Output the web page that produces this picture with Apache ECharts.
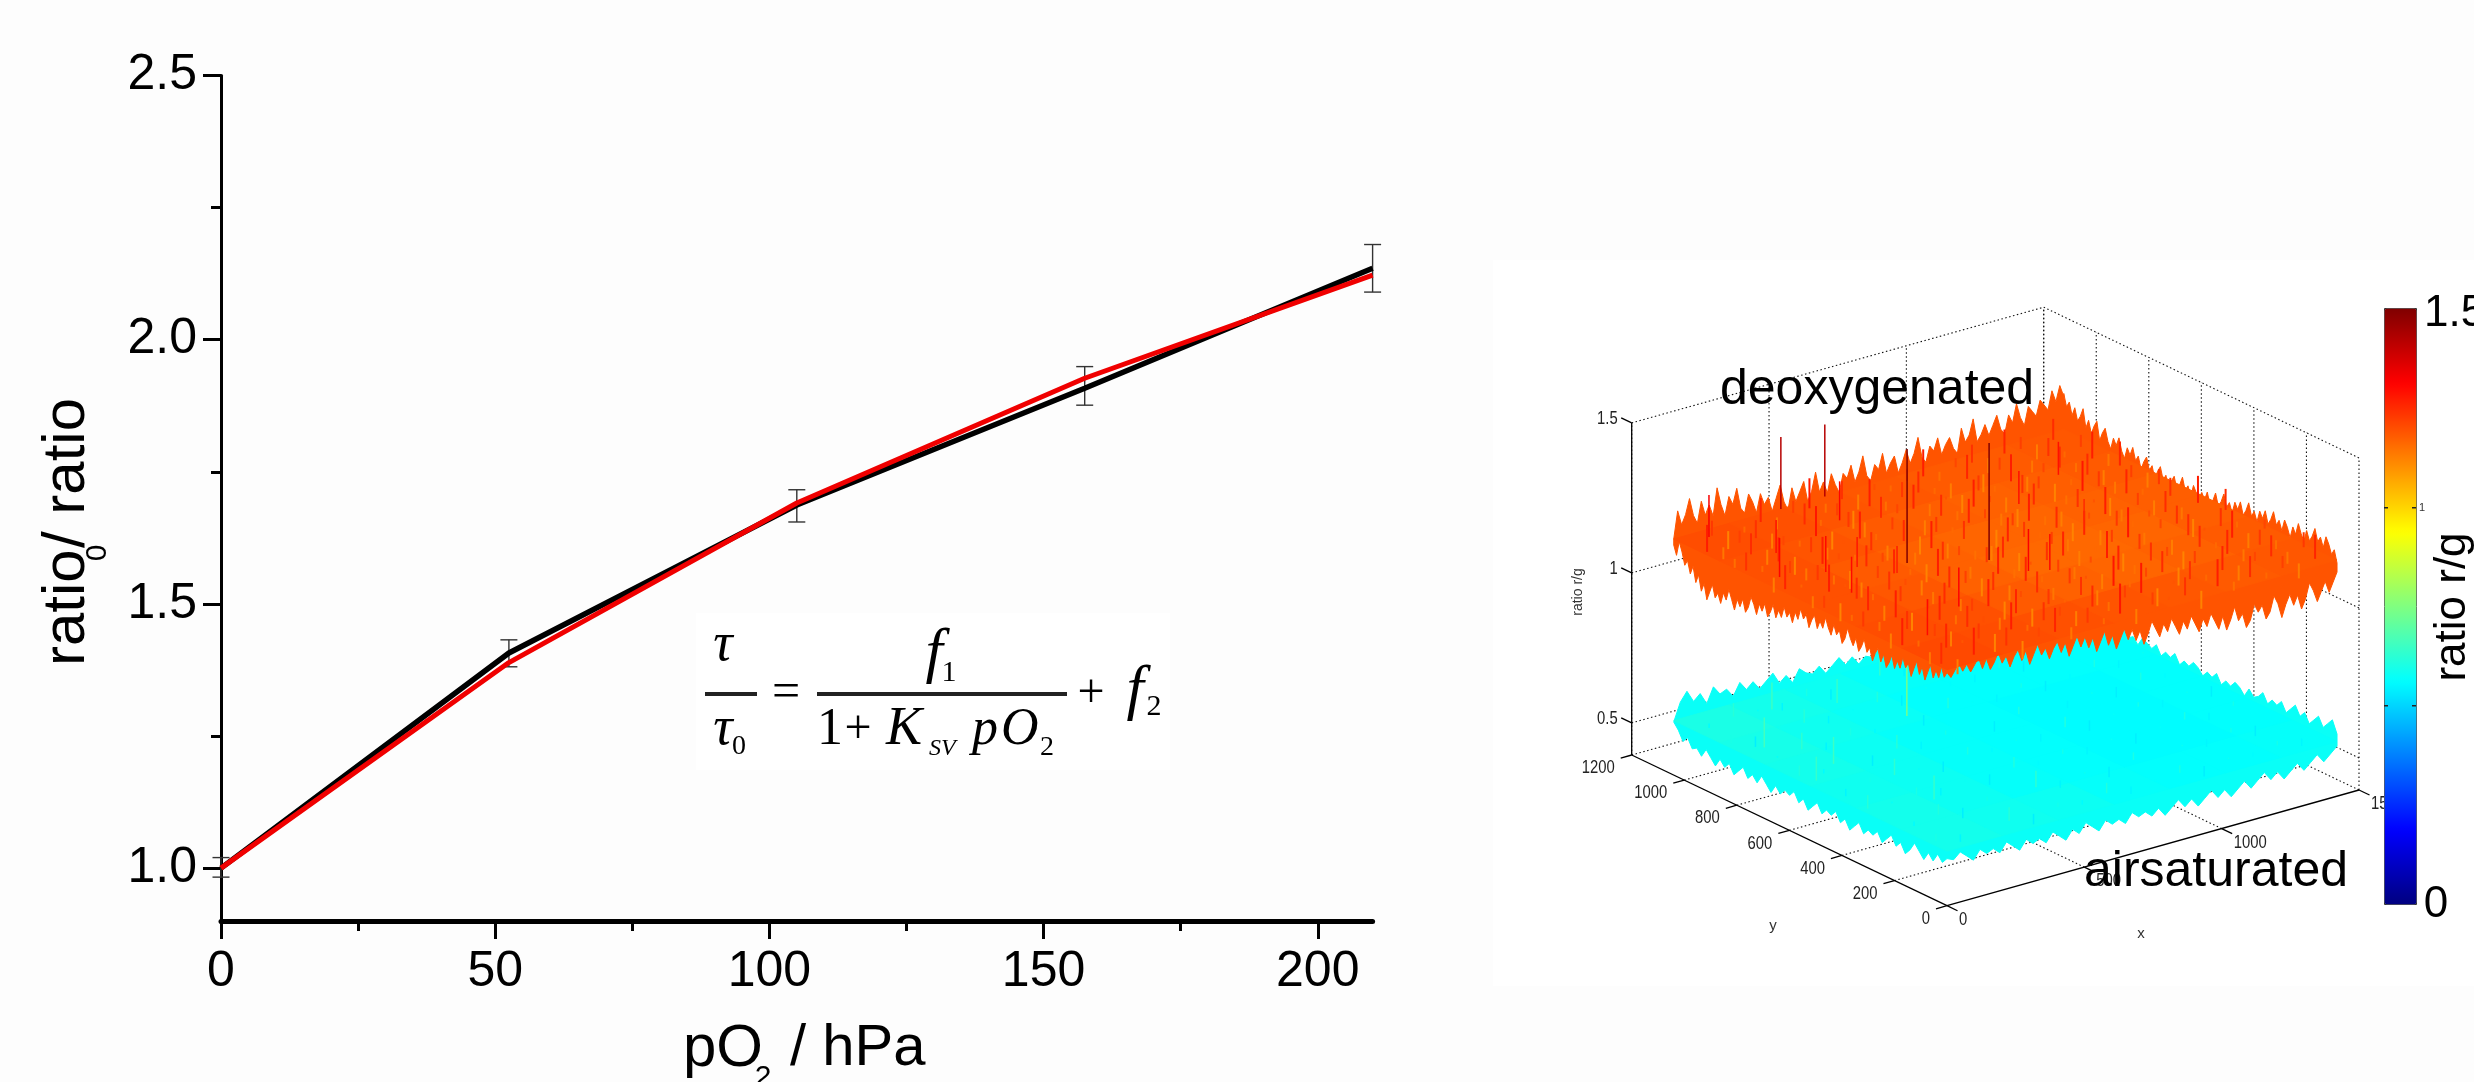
<!DOCTYPE html>
<html><head><meta charset="utf-8">
<style>html,body{margin:0;padding:0;background:#fff}#c{width:2474px;height:1082px}</style>
<script src="https://cdn.jsdelivr.net/npm/echarts@6/dist/echarts.min.js"></script>
</head><body><div id="c"></div>
<script>
// ---- left chart data ----
const pO2 = [0, 52.5, 105, 157.5, 210];
const measured = [1.0, 1.407, 1.687, 1.908, 2.135];
const fitted = [1.0, 1.389, 1.691, 1.927, 2.122];
const errLow = [0.983, 1.381, 1.655, 1.876, 2.09];
const errHigh = [1.02, 1.432, 1.716, 1.949, 2.18];
const xTicks = [0, 50, 100, 150, 200];
const xMinorTicks = [25, 75, 125, 175];
const yTicks = [1.0, 1.5, 2.0, 2.5];
const yMinorTicks = [1.25, 1.75, 2.25];

// ---- inset 3D axes ----
const insetX = [0, 500, 1000, 1500];
const insetY = [0, 200, 400, 600, 800, 1000, 1200];
const insetZ = [0.5, 1, 1.5];
const insetZLabels = ['0.5', '1', '1.5'];
const plateX = 1420, plateY = 1040;

// ---- deoxygenated plate: silhouette ratio x100 read along its four edges ----
const deoxFarLeft = [118,127,122,125,130,124,121,128,123,126,122,131,125,121,127,124,129,122,120,126,
123,119,125,121,123,118,122,126,120,117,124,119,122,125,118,121,127,120,123,119,
125,121,118,124,122,126,120,123,128,121,119,124,122,127,120,123,125,119,122,126,
121,124,129,122,120,125,123,127,121,124,126,122,120,128,123,125,130,122,124,127,
123,126,129,124,122,128,125,131,126,123,129,127,125,130,128,126,132,128,133,129];
const deoxFarRight = [130,126,128,124,127,123,125,128,122,125,121,124,126,120,123,125,121,119,123,121,
124,120,118,122,120,123,119,121,117,120,122,118,120,116,119,121,117,119,115,118,
120,116,118,121,117,119,116,120,118,115,119,117,120,116,118,121,117,119,122,118,
120,117,121,119,122,118,120,123,119,121,118,122,120,123,119,121,124,120,122,119,
123,121,118,122,120,124,121,119,123,120,122,125,121,123,120,124,122,119,121,117];
const deoxNearRight = [114,111,108,112,109,106,110,113,108,105,110,107,111,108,104,109,112,107,105,110,
108,111,106,104,109,107,112,108,105,110,106,109,112,108,111,107,110,113,109,112,
108,111,114,110,113,109,112,115,111,108,113,110,114,111,115,112,109,114,111,116,
113,110,115,112,116,113,117,114,111,116,113,117,115,112,116,114,118,115,112,117,
114,118,116,113,117,115,119,116,114,118,115,119,117,115,118,116,119,117,115,117];
const deoxNearLeft = [117,115,118,114,116,113,117,114,111,115,112,116,113,110,114,112,115,111,113,110,
114,111,109,113,110,114,112,109,113,111,115,112,110,114,111,113,116,112,110,114,
112,115,111,113,116,112,114,111,115,113,110,114,112,115,111,113,109,112,110,113,
109,111,108,112,109,107,111,108,110,106,109,111,107,105,109,106,108,104,107,110,
106,108,104,107,105,109,106,103,108,105,110,107,112,109,113,111,115,118,113,116];

// ---- air saturated plate: silhouette ratio x100 ----
const airFarLeft = [57,63,66,62,64,60,65,62,63,60,64,61,63,60,62,64,60,62,59,63,61,60,62,59,61,63,60,62,59,61,60,62,59,61,63,60,61,59,62,60,61,59,62,60,58,61,60,62,59,61,60,62,59,60,61,59,62,60,61,60];
const airFarRight = [60,61,59,62,60,58,61,59,60,62,59,60,58,61,59,60,58,61,60,59,61,58,60,59,61,58,60,59,61,60,58,60,59,61,58,60,59,61,60,58,61,59,60,62,59,61,60,62,59,61,63,60,62,59,61,63,60,62,64,60];
const airNearRight = [56,54,52,55,53,51,54,52,50,53,51,54,52,50,53,51,49,52,50,53,51,49,52,50,53,51,49,52,50,52,51,53,50,52,51,53,50,52,54,51,53,50,52,54,51,53,52,54,51,53,55,52,54,53,55,52,54,56,54,55];
const airNearLeft = [55,53,55,52,54,51,53,55,52,50,53,51,54,52,50,53,51,52,50,53,51,49,52,50,53,51,52,50,53,51,49,52,50,53,51,52,50,52,49,51,53,50,52,50,53,51,49,52,50,52,49,51,53,50,52,51,54,52,55,57];

// ---- plate shade: ratio in coarse blocks, rows y-low to y-high, columns x-low to x-high ----
const deoxShadeRows = [
  [1.205,1.20,1.195,1.19,1.185,1.18,1.185],
  [1.20,1.195,1.18,1.17,1.165,1.17,1.18],
  [1.195,1.185,1.17,1.16,1.16,1.165,1.175],
  [1.195,1.18,1.17,1.165,1.165,1.17,1.175],
  [1.195,1.19,1.18,1.175,1.17,1.175,1.18],
  [1.20,1.195,1.19,1.185,1.18,1.18,1.185]
];
const airShadeRows = [
  [0.59,0.585,0.58,0.57,0.565,0.565,0.57],
  [0.59,0.58,0.57,0.565,0.56,0.56,0.565],
  [0.585,0.58,0.57,0.565,0.56,0.56,0.565],
  [0.59,0.58,0.57,0.565,0.56,0.56,0.565],
  [0.595,0.585,0.575,0.565,0.565,0.565,0.565],
  [0.60,0.59,0.58,0.57,0.565,0.565,0.57]
];

// ---- fine grain of each plate: ratio x100 per row of samples ----
const deoxGrain = [
[125,113,127,118,124,112,121,126,114,123,116,128,113,122,119,124,112,127,115,125,116,122,113,126],
[114,126,119,123,112,127,116,124,121,113,125,115,122,128,112,119,124,116,126,113,121,125,114,123],
[127,116,122,113,125,120,114,126,112,123,117,124,113,128,116,121,125,112,122,118,126,114,123,115],
[113,124,118,126,115,122,127,112,120,125,114,123,119,113,126,115,124,121,112,125,116,127,113,121],
[123,115,127,112,121,125,114,118,124,113,126,116,122,114,120,127,112,123,117,113,125,119,124,116],
[116,126,113,123,118,114,125,122,112,127,115,119,124,126,113,116,122,128,114,121,124,112,118,125],
[122,112,125,116,124,120,113,127,117,114,123,125,112,118,122,114,126,113,123,116,120,125,114,127],
[114,127,119,113,122,126,116,112,124,121,115,113,126,123,116,125,112,120,127,114,122,113,124,118],
[126,117,123,115,112,125,121,118,114,127,113,124,118,112,122,127,115,113,124,119,112,126,116,123],
[113,122,114,127,120,116,124,113,125,112,123,116,126,121,114,112,125,118,115,128,123,114,122,113],
[124,116,126,112,123,114,119,127,116,122,118,113,125,115,127,120,113,124,122,112,116,125,113,126],
[115,125,113,121,116,128,112,123,113,125,121,126,114,119,112,123,116,127,113,121,125,115,127,114],
[127,114,122,124,113,118,125,116,122,112,127,115,123,125,116,113,126,112,122,118,114,124,116,122],
[118,123,112,116,126,114,122,128,115,124,113,120,116,122,127,115,121,124,113,126,122,113,125,118]
];
const airGrain = [
[60,55,58,62,54,59,56,61,55,57,60,54,58,56,59,55],
[56,61,54,59,57,63,55,58,54,60,56,58,55,59,54,57],
[62,57,60,55,58,54,61,56,59,55,58,54,57,60,55,59],
[55,59,63,57,54,60,56,58,55,61,54,57,59,55,58,54],
[61,56,58,54,62,55,59,57,54,60,56,55,58,54,60,56],
[57,63,55,60,56,58,54,61,57,55,59,54,56,60,55,58],
[60,54,59,62,55,57,61,54,58,56,55,60,54,58,56,59],
[56,62,57,55,60,54,58,63,55,59,54,57,60,55,58,54]
];

// ---- individual pixels that stand out: [x, y, ratio] ----
const deoxSpikes = [
 [420,591,1.56],[550,1040,1.42],[390,1040,1.42],[622,490,1.57],[714,355,1.30],[1032,557,1.25],[286,641,1.28],[349,555,1.27],[167,825,1.29],
 [120,200,1.30],[150,520,1.30],[330,300,1.31],[60,700,1.31],[660,380,1.32],[190,660,1.30],[90,1000,1.32],[470,900,1.31],[960,730,1.29],[1190,820,1.29]
];
const airSpikes = [[578,757,0.736],[100,800,0.66],[180,620,0.65],[60,560,0.64],[240,300,0.64],[480,920,0.64],[300,980,0.65]];

const jetStops = ['#000080','#0000ff','#0080ff','#00ffff','#80ff80','#ffff00','#ff8000','#ff0000','#800000'];

// ---- projection of the inset box onto the page ----
const zFloor = 0.393;
function project(x, y, z) {
  return [1947 + 412 * x / 1500 - 315.3 * y / 1200,
          905.7 - 115.7 * x / 1500 - 150.7 * y / 1200 - 300 * (z - zFloor)];
}
function wallSegments() {
  const s = [];
  insetX.forEach(x => {
    s.push([x,1200,zFloor,x,1200,1.5]);
    if (x) s.push([x,0,zFloor,x,1200,zFloor]);
  });
  insetY.forEach(y => {
    s.push([1500,y,zFloor,1500,y,1.5]);
    if (y) s.push([0,y,zFloor,1500,y,zFloor]);
  });
  insetZ.forEach(z => {
    s.push([0,1200,z,1500,1200,z]);
    s.push([1500,0,z,1500,1200,z]);
  });
  return s;
}
function axisSegments() {
  const s = [[0,0,zFloor,1500,0,zFloor],[0,0,zFloor,0,1200,zFloor],[0,1200,zFloor,0,1200,1.5]];
  insetX.forEach(x => s.push([x,0,zFloor,x,-40,zFloor]));
  insetY.forEach(y => s.push([0,y,zFloor,-40,y,zFloor]));
  insetZ.forEach(z => s.push([0,1200,z,0,1240,z]));
  return s;
}
function segmentSeries(data, style) {
  return {
    type:'custom', xAxisIndex:2, yAxisIndex:2, clip:false, silent:true,
    data, encode:{x:0,y:1},
    renderItem(p, api) {
      const v = [0,1,2,3,4,5].map(i => api.value(i));
      const a = api.coord(project(v[0],v[1],v[2])), b = api.coord(project(v[3],v[4],v[5]));
      return {type:'line', shape:{x1:a[0],y1:a[1],x2:b[0],y2:b[1]}, style};
    }
  };
}
function outline(farLeft, farRight, nearRight, nearLeft) {
  const pts = [];
  farLeft.forEach((z,i) => pts.push(project(plateX*i/(farLeft.length-1), plateY, z/100)));
  farRight.forEach((z,i) => pts.push(project(plateX, plateY*(1-i/(farRight.length-1)), z/100)));
  nearRight.forEach((z,i) => pts.push(project(plateX*(1-i/(nearRight.length-1)), 0, z/100)));
  nearLeft.forEach((z,i) => pts.push(project(0, plateY*i/(nearLeft.length-1), z/100)));
  return pts;
}
function outlineSeries(pts, ratio) {
  return {
    type:'custom', xAxisIndex:2, yAxisIndex:2, clip:false, silent:true,
    data:[[0,0,ratio]], encode:{x:0,y:1},
    renderItem(p, api) {
      return {type:'polygon', shape:{points:pts.map(q => api.coord(q))}, style:{fill:api.visual('color'), stroke:api.visual('color'), lineWidth:1}};
    }
  };
}
function shadeSeries(rows, plane) {
  const data = [];
  const cols = rows[0].length, nr = rows.length;
  rows.forEach((r,j) => r.forEach((v,i) => data.push([plateX*i/cols, plateY*j/nr, v])));
  return {
    type:'custom', xAxisIndex:2, yAxisIndex:2, clip:false, silent:true,
    data, encode:{x:0,y:1},
    renderItem(p, api) {
      const x = api.value(0), y = api.value(1), dx = plateX/cols, dy = plateY/nr, c = api.visual('color');
      const q = [[x,y],[x+dx,y],[x+dx,y+dy],[x,y+dy]].map(a => api.coord(project(a[0],a[1],plane)));
      return {type:'polygon', shape:{points:q}, style:{fill:c, stroke:c, lineWidth:1}};
    }
  };
}
function grainData(rows) {
  const data = [];
  rows.forEach((r,j) => r.forEach((v,i) => data.push([
    plateX*(i+(j%2?0.75:0.25))/r.length, plateY*(j+0.5)/rows.length, v/100])));
  return data;
}
function spikeSeries(data, plane, width) {
  return {
    type:'custom', xAxisIndex:2, yAxisIndex:2, clip:false, silent:true,
    data, encode:{x:0,y:1},
    renderItem(p, api) {
      const x = api.value(0), y = api.value(1), z = api.value(2);
      const a = api.coord(project(x,y,plane)), b = api.coord(project(x,y,z));
      return {type:'line', shape:{x1:a[0],y1:a[1],x2:b[0],y2:b[1]}, style:{stroke:api.visual('color'), lineWidth:width}};
    }
  };
}
function labelSeries(data, place) {
  return {
    type:'custom', xAxisIndex:2, yAxisIndex:2, clip:false, silent:true, z:3,
    data:data.map((d,i) => [i,0,d]), encode:{x:0,y:1},
    renderItem(p, api) {
      const i = api.value(0), o = place(data[i], i), c = api.coord(o.at);
      return {type:'text', x:c[0]+o.dx, y:c[1]+o.dy, scaleX:0.78, style:{x:0, y:0, text:o.text, fill:'#222', fontSize:19,
        fontFamily:'Liberation Sans', align:o.align, verticalAlign:'middle'}};
    }
  };
}

const F = 'Liberation Sans', S = 'Liberation Serif';
function txt(text, x, y, size, extra) {
  return {type:'text', z:100, silent:true, x, y, rotation:(extra&&extra.rot)||0,
    style:{text, fontSize:size, fontFamily:(extra&&extra.fam)||F, fontStyle:(extra&&extra.it)?'italic':'normal',
      fill:(extra&&extra.fill)||'#000', align:(extra&&extra.align)||'left', verticalAlign:'middle'}};
}
function bar(x, y, w, h, fill) {
  return {type:'rect', z:100, silent:true, shape:{x,y,width:w,height:h}, style:{fill:fill||'#222'}};
}
const R90 = Math.PI/2;
const graphicEls = [
  {type:'rect', z:0, silent:true, shape:{x:1493,y:260,width:981,height:726}, style:{fill:'#fff'}},
  {type:'rect', z:0, silent:true, shape:{x:696,y:613,width:474,height:157}, style:{fill:'#fff'}},
  // axis titles
  txt('ratio', 67, 666, 60, {rot:R90}), txt('0', 98, 553, 30, {rot:R90, align:'center'}), txt('/ ratio', 67, 548, 60, {rot:R90}),
  txt('pO', 683, 1049, 60), txt('2', 763, 1078, 30, {align:'center'}), txt('/ hPa', 790, 1049, 58),
  // formula
  txt('τ', 723, 646, 54, {fam:S, it:1, align:'center'}), bar(705,692,52,4),
  txt('τ', 723, 730, 54, {fam:S, it:1, align:'center'}), txt('0', 739, 747, 28, {fam:S, align:'center'}),
  txt('=', 786, 694, 50, {fam:S, align:'center'}), bar(817,692,250,4),
  txt('f', 934, 655, 62, {fam:S, it:1, align:'center'}), txt('1', 949, 673, 30, {fam:S, align:'center'}),
  txt('1', 817, 730, 52, {fam:S}), txt('+', 858, 730, 48, {fam:S, align:'center'}), txt('K', 886, 730, 54, {fam:S, it:1}),
  txt('SV', 929, 749, 24, {fam:S, it:1}), txt('p', 972, 730, 52, {fam:S, it:1}), txt('O', 1001, 730, 52, {fam:S, it:1}),
  txt('2', 1047, 748, 28, {fam:S, align:'center'}), txt('+', 1091, 694, 48, {fam:S, align:'center'}),
  txt('f', 1135, 692, 62, {fam:S, it:1, align:'center'}), txt('2', 1154, 707, 30, {fam:S, align:'center'}),
  // inset labels
  txt('deoxygenated', 1720, 390, 50), txt('airsaturated', 2084, 872, 50),
  txt('ratio r/g', 1578, 592, 14, {rot:R90, align:'center', fill:'#333'}),
  txt('y', 1773, 926, 15, {align:'center', fill:'#333'}), txt('x', 2141, 934, 15, {align:'center', fill:'#333'}),
  // colour bar
  txt('1.5', 2424, 314, 44), txt('0', 2436, 905, 44, {align:'center'}),
  txt('ratio r/g', 2453, 607, 44, {rot:R90, align:'center'}),
  txt('1', 2419, 508, 11, {fill:'#333'}),
  bar(2384,507,4,1.5,'#222'), bar(2412,507,4,1.5,'#222'), bar(2384,705,4,1.5,'#222'), bar(2412,705,4,1.5,'#222')
];

const fontAxis = {fontFamily:F, fontSize:50, color:'#000'};
const axisPen = {color:'#000', width:3};

const series = [
  {
    name:'error', type:'custom', xAxisIndex:0, yAxisIndex:0, clip:false, silent:true,
    data:pO2.map((x,i) => [x, errLow[i], errHigh[i]]), encode:{x:0,y:[1,2]},
    renderItem(p, api) {
      const x = api.value(0), a = api.coord([x, api.value(1)]), b = api.coord([x, api.value(2)]);
      const st = {stroke:'#333', lineWidth:1.4};
      return {type:'group', children:[
        {type:'line', shape:{x1:a[0],y1:a[1],x2:b[0],y2:b[1]}, style:st},
        {type:'line', shape:{x1:a[0]-8.5,y1:a[1],x2:a[0]+8.5,y2:a[1]}, style:st},
        {type:'line', shape:{x1:b[0]-8.5,y1:b[1],x2:b[0]+8.5,y2:b[1]}, style:st}
      ]};
    }
  },
  {name:'measured', type:'line', xAxisIndex:0, yAxisIndex:0, data:pO2.map((x,i)=>[x,measured[i]]), symbol:'none', clip:false, lineStyle:{color:'#000', width:5.5}},
  {name:'fit', type:'line', xAxisIndex:0, yAxisIndex:0, data:pO2.map((x,i)=>[x,fitted[i]]), symbol:'none', clip:false, lineStyle:{color:'#f00000', width:5}},
  segmentSeries(wallSegments(), {stroke:'#111', lineWidth:1.1, lineDash:[1.5,2.5]}),
  segmentSeries(axisSegments(), {stroke:'#000', lineWidth:1.3}),
  labelSeries(insetX, v => ({at:project(v,0,zFloor), dx:12, dy:14, text:String(v), align:'left'})),
  labelSeries(insetY, v => ({at:project(0,v,zFloor), dx:-17, dy:13, text:String(v), align:'right'})),
  labelSeries(insetZ, (v,i) => ({at:project(0,1200,v), dx:-14, dy:-4, text:insetZLabels[i], align:'right'}))
];
const colourIdx = [];
function addColoured(s) { colourIdx.push(series.length); series.push(s); }
addColoured(outlineSeries(outline(airFarLeft, airFarRight, airNearRight, airNearLeft), 0.575));
addColoured(shadeSeries(airShadeRows, 0.575));
addColoured(spikeSeries(grainData(airGrain), 0.575, 1.5));
addColoured(spikeSeries(airSpikes, 0.56, 1.5));
addColoured(outlineSeries(outline(deoxFarLeft, deoxFarRight, deoxNearRight, deoxNearLeft), 1.19));
addColoured(shadeSeries(deoxShadeRows, 1.18));
addColoured(spikeSeries(grainData(deoxGrain), 1.18, 2));
addColoured(spikeSeries(deoxSpikes, 1.18, 1.5));

const chart = echarts.init(document.getElementById('c'), null, {renderer:'canvas'});
chart.setOption({
  animation:false,
  backgroundColor:'#fdfdfd',
  grid:[
    {left:221, top:75.4, width:1151.6, height:845.6},
    {left:0, top:0, width:2474, height:1082, show:false}
  ],
  xAxis:[
    {gridIndex:0, type:'value', min:0, max:210, position:'bottom', splitLine:{show:false},
     axisLine:{onZero:false, lineStyle:{color:'#000', width:5}},
     axisTick:{show:true, length:18, lineStyle:axisPen, customValues:xTicks},
     axisLabel:{...fontAxis, margin:26, customValues:xTicks, formatter:v=>String(v), hideOverlap:false}},
    {gridIndex:0, type:'value', min:0, max:210, position:'bottom', splitLine:{show:false},
     axisLine:{show:false}, axisTick:{show:true, length:10, lineStyle:axisPen, customValues:xMinorTicks}, axisLabel:{show:false}},
    {gridIndex:1, type:'value', min:0, max:2474, show:false, splitLine:{show:false}}
  ],
  yAxis:[
    {gridIndex:0, type:'value', min:0.9, max:2.5, position:'left', splitLine:{show:false},
     axisLine:{show:true, onZero:false, lineStyle:axisPen},
     axisTick:{show:true, length:18, lineStyle:axisPen, customValues:yTicks},
     axisLabel:{...fontAxis, margin:24, customValues:yTicks, formatter:v=>v.toFixed(1)}},
    {gridIndex:0, type:'value', min:0.9, max:2.5, position:'left', splitLine:{show:false},
     axisLine:{show:false}, axisTick:{show:true, length:10, lineStyle:axisPen, customValues:yMinorTicks}, axisLabel:{show:false}},
    {gridIndex:1, type:'value', min:0, max:1082, inverse:true, show:false, splitLine:{show:false}}
  ],
  visualMap:{
    type:'continuous', min:0, max:1.5, dimension:2, seriesIndex:colourIdx,
    left:2384, top:308, itemWidth:32, itemHeight:596, padding:0, calculable:false, hoverLink:false,
    borderColor:'#333', borderWidth:1, inRange:{color:jetStops}, text:null
  },
  series,
  graphic:{elements:graphicEls}
});
</script></body></html>
